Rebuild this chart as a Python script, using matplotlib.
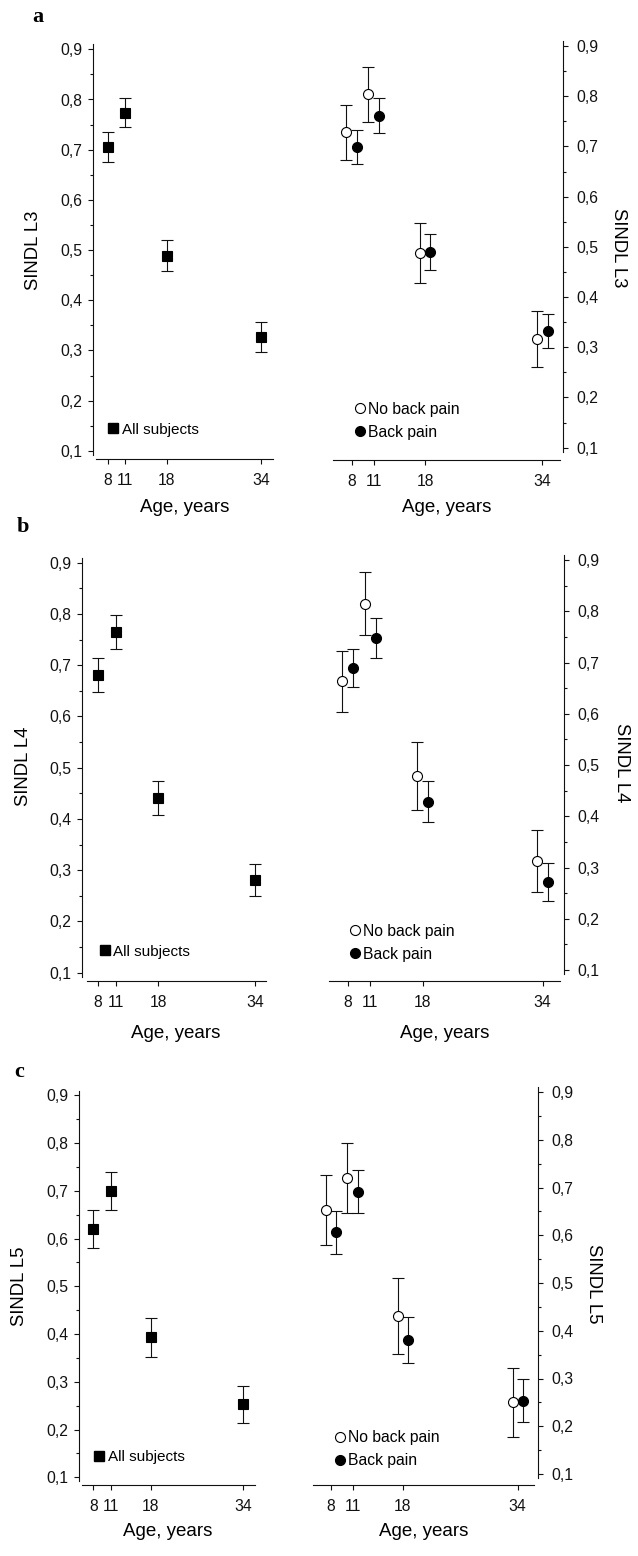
import matplotlib
matplotlib.use("Agg")
import matplotlib.pyplot as plt
from matplotlib.ticker import MultipleLocator, FuncFormatter
from matplotlib.lines import Line2D

plt.rcParams['font.family'] = ['Liberation Sans', 'DejaVu Sans']

# ---------------- data ----------------
ages = [8, 11, 18, 34]
age_labels = ["8", "11", "18", "34"]

l3_all = [0.705, 0.774, 0.489, 0.327]
l3_all_err = [0.030, 0.029, 0.031, 0.029]
l3_nopain = [0.728, 0.804, 0.488, 0.316]
l3_nopain_err = [0.055, 0.055, 0.060, 0.056]
l3_pain = [0.698, 0.761, 0.489, 0.332]
l3_pain_err = [0.034, 0.035, 0.036, 0.034]

l4_all = [0.681, 0.765, 0.441, 0.281]
l4_all_err = [0.033, 0.033, 0.034, 0.032]
l4_nopain = [0.663, 0.815, 0.479, 0.313]
l4_nopain_err = [0.060, 0.061, 0.066, 0.061]
l4_pain = [0.690, 0.747, 0.428, 0.271]
l4_pain_err = [0.037, 0.039, 0.040, 0.037]

l5_all = [0.620, 0.699, 0.393, 0.253]
l5_all_err = [0.039, 0.040, 0.041, 0.039]
l5_nopain = [0.653, 0.720, 0.431, 0.250]
l5_nopain_err = [0.074, 0.074, 0.080, 0.073]
l5_pain = [0.606, 0.691, 0.380, 0.253]
l5_pain_err = [0.045, 0.045, 0.048, 0.045]

ylabels = ["SINDL L3", "SINDL L4", "SINDL L5"]
panel_letters = ["a", "b", "c"]
dodge = 0.72

# ---------------- layout (pixels) ----------------
W, H = 638, 1556
DPI = 100
PT = DPI / 72.0
fig = plt.figure(figsize=(W / DPI, H / DPI), dpi=DPI)

# x8 px, px/year, xlim, y(0.9) px, px/0.1, ylow, spine offset px
cfg_left = [
    dict(x8=107.7, ppy=5.9, xlim=(6.1, 36.0), y09=49.3, pp=50.2, ylo=0.084, out=3.8),
    dict(x8=97.7, ppy=6.05, xlim=(6.18, 35.9), y09=562.7, pp=51.25, ylo=0.0844, out=4.4),
    dict(x8=93.3, ppy=5.75, xlim=(6.0, 36.1), y09=1095.3, pp=47.75, ylo=0.0839, out=2.8),
]
cfg_right = [
    dict(x8=351.7, ppy=7.33, xlim=(5.5, 36.4), y09=46.0, pp=50.2, ylo=0.0755, out=3.4),
    dict(x8=347.7, ppy=7.5, xlim=(5.55, 36.3), y09=560.0, pp=51.25, ylo=0.0791, out=4.3),
    dict(x8=331.0, ppy=7.18, xlim=(5.53, 36.3), y09=1092.0, pp=47.75, ylo=0.077, out=4.1),
]
YHI = 0.93

leg_left_pos = [(8.2, 0.142), (8.45, 0.141), (8.24, 0.142)]
leg_right_pos = [(8.45, 0.1535), (8.32, 0.1535), (8.48, 0.152)]
ylab_left_px = [(33, 250), (23, 766.7), (20, 1286.7)]
ylab_right_px = [(618, 248), (621.7, 763), (593.3, 1283.3)]
xlab_left_px = [(185, 508), (175.8, 1033), (167.5, 1531.7)]
xlab_right_px = [(446.7, 508), (444.2, 1033), (423.3, 1531.7)]
letter_px = [(38, 17), (23, 526.7), (19, 1071.7)]


def make_ax(c):
    left = c['x8'] + (c['xlim'][0] - 8) * c['ppy']
    right = c['x8'] + (c['xlim'][1] - 8) * c['ppy']
    top = c['y09'] - (YHI - 0.9) * 10 * c['pp']
    bottom = c['y09'] + (0.9 - c['ylo']) * 10 * c['pp']
    ax = fig.add_axes([left / W, 1 - bottom / H, (right - left) / W, (bottom - top) / H])
    ax.set_xlim(*c['xlim'])
    ax.set_ylim(c['ylo'], YHI)
    ax.patch.set_alpha(0)
    return ax


def style(ax, c, side):
    for s in ['top', 'left', 'right', 'bottom']:
        ax.spines[s].set_linewidth(0.8)
        ax.spines[s].set_color('#111111')
    other = 'right' if side == 'left' else 'left'
    ax.spines['top'].set_visible(False)
    ax.spines[other].set_visible(False)
    ax.spines[side].set_position(('outward', c['out'] / PT))
    ax.spines[side].set_bounds(0.092, 0.91)
    ax.yaxis.set_major_locator(MultipleLocator(0.1))
    ax.yaxis.set_minor_locator(MultipleLocator(0.05))
    ax.yaxis.set_major_formatter(FuncFormatter(lambda v, p: ("%.1f" % v).replace('.', ',')))
    ax.set_yticks([0.1, 0.2, 0.3, 0.4, 0.5, 0.6, 0.7, 0.8, 0.9])
    ax.set_xticks(ages)
    ax.set_xticklabels(age_labels)
    if side == 'right':
        ax.yaxis.tick_right()
        ypad = 5.5
    else:
        ypad = 4.0
    ax.tick_params(axis='y', which='major', direction='out', length=3.6, width=0.8,
                   labelsize=11.3, pad=ypad, colors='#111111')
    ax.tick_params(axis='y', which='minor', direction='out', length=2.2, width=0.8,
                   colors='#111111')
    ax.tick_params(axis='x', which='major', direction='out', length=3.6, width=0.8,
                   labelsize=11.3, pad=6.5, colors='#111111')
    ax.tick_params(axis='x', which='minor', bottom=False)


all_sets = [
    (l3_all, l3_all_err, l3_nopain, l3_nopain_err, l3_pain, l3_pain_err),
    (l4_all, l4_all_err, l4_nopain, l4_nopain_err, l4_pain, l4_pain_err),
    (l5_all, l5_all_err, l5_nopain, l5_nopain_err, l5_pain, l5_pain_err),
]

ebkw = dict(linestyle='none', ecolor='#111111', elinewidth=0.8, capsize=4.2, capthick=0.8,
            markeredgewidth=0.8, markeredgecolor='black', zorder=3)

for i, (m_all, e_all, m_np, e_np, m_p, e_p) in enumerate(all_sets):
    # left: all subjects
    cl = cfg_left[i]
    axl = make_ax(cl)
    style(axl, cl, 'left')
    axl.errorbar(ages, m_all, yerr=e_all, marker='s', markersize=6.8,
                 markerfacecolor='black', **ebkw)
    h = Line2D([], [], linestyle='none', marker='s', markersize=6.5, markerfacecolor='black',
               markeredgecolor='black')
    axl.legend([h], ["All subjects"], loc='center left', bbox_to_anchor=leg_left_pos[i],
               bbox_transform=axl.transData, frameon=False, handlelength=0.6,
               handletextpad=0.25, borderpad=0, borderaxespad=0, fontsize=11)

    # right: no back pain / back pain
    cr = cfg_right[i]
    axr = make_ax(cr)
    style(axr, cr, 'right')
    x_np = [a - dodge for a in ages]
    x_p = [a + dodge for a in ages]
    axr.errorbar(x_np, m_np, yerr=e_np, marker='o', markersize=7.2,
                 markerfacecolor='white', **ebkw)
    axr.errorbar(x_p, m_p, yerr=e_p, marker='o', markersize=7.2,
                 markerfacecolor='black', **ebkw)
    h1 = Line2D([], [], linestyle='none', marker='o', markersize=7.2, markerfacecolor='white',
                markeredgecolor='black', markeredgewidth=0.8)
    h2 = Line2D([], [], linestyle='none', marker='o', markersize=7.2, markerfacecolor='black',
                markeredgecolor='black', markeredgewidth=0.8)
    axr.legend([h1, h2], ["No back pain", "Back pain"], loc='center left',
               bbox_to_anchor=leg_right_pos[i], bbox_transform=axr.transData,
               frameon=False, handlelength=0.65, handletextpad=0.2, borderpad=0,
               borderaxespad=0, labelspacing=0.5, fontsize=11.3)

    # labels
    x, y = ylab_left_px[i]
    fig.text(x / W, 1 - y / H, ylabels[i], rotation=90, ha='center', va='center', fontsize=13.3)
    x, y = ylab_right_px[i]
    fig.text(x / W, 1 - y / H, ylabels[i], rotation=270, ha='center', va='center', fontsize=13.3)
    x, y = xlab_left_px[i]
    fig.text(x / W, 1 - y / H, "Age, years", ha='center', va='center', fontsize=13.5)
    x, y = xlab_right_px[i]
    fig.text(x / W, 1 - y / H, "Age, years", ha='center', va='center', fontsize=13.5)
    x, y = letter_px[i]
    fig.text(x / W, 1 - y / H, panel_letters[i], ha='center', va='center', fontsize=16,
             fontweight='bold', family=['Liberation Serif', 'DejaVu Serif'])

fig.savefig("out.png", dpi=DPI)
